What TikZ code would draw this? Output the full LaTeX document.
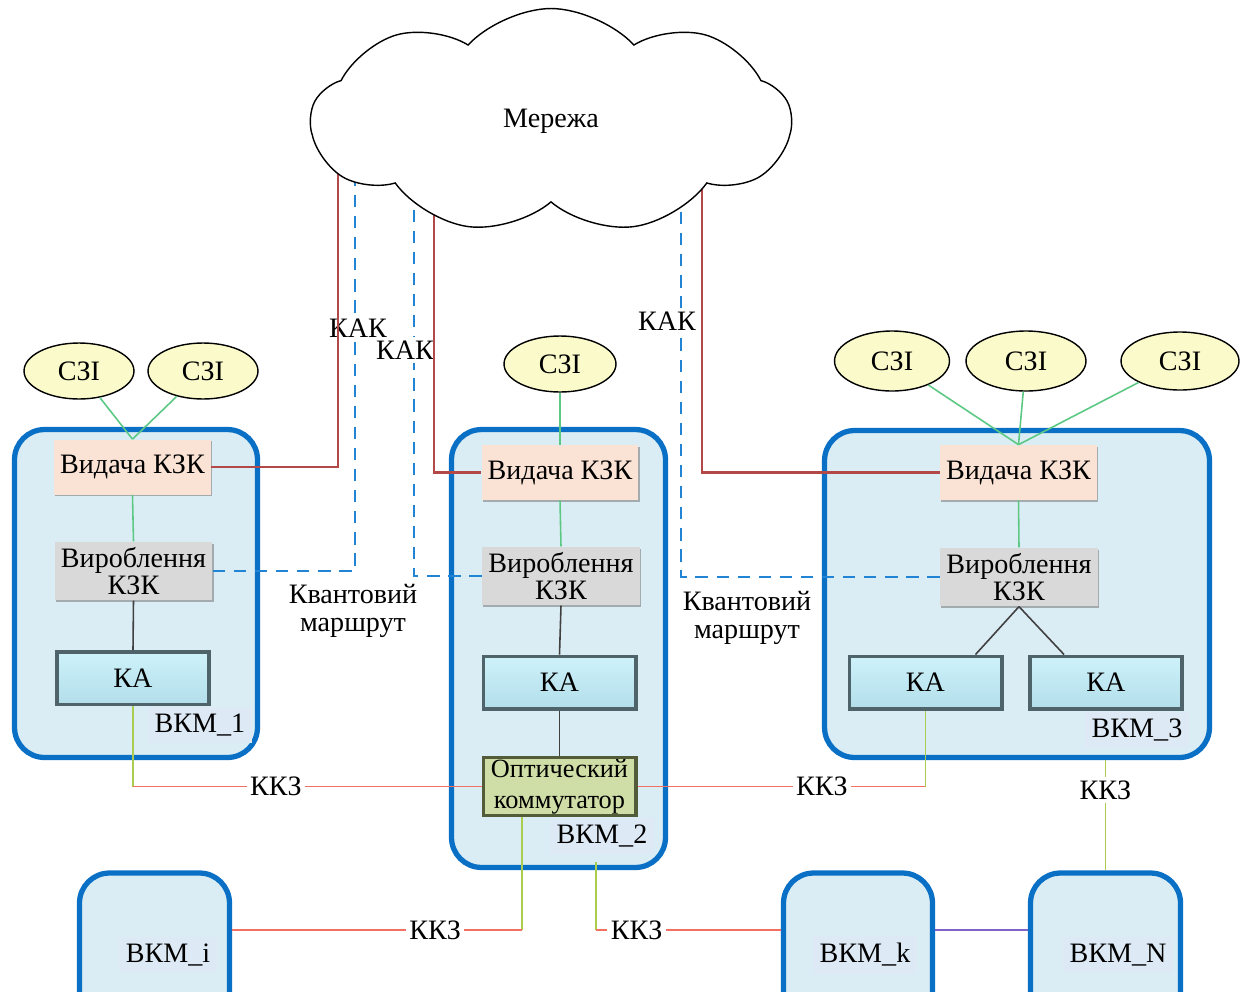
\documentclass[tikz,border=0pt]{standalone}
\usepackage{fontspec}
\setmainfont{Liberation Serif}
\usepackage{tikz}
\usetikzlibrary{calc}
\usetikzlibrary{positioning}
\usetikzlibrary{shadows}
\usetikzlibrary{shapes.geometric}
\usetikzlibrary{shapes.symbols}

\definecolor{VkmBlue}{RGB}{10,112,197}
\definecolor{VkmFill}{RGB}{219,237,244}
\definecolor{LblFill}{RGB}{221,233,245}
\definecolor{SziFill}{RGB}{250,250,202}
\definecolor{VydFill}{RGB}{250,226,213}
\definecolor{VyrFill}{RGB}{217,217,217}
\definecolor{KaTop}{RGB}{206,242,250}
\definecolor{KaBot}{RGB}{178,222,234}
\definecolor{KaEdge}{RGB}{78,100,106}
\definecolor{KomFill}{RGB}{207,221,166}
\definecolor{KomEdge}{RGB}{82,92,56}
\definecolor{KakRed}{RGB}{178,72,72}
\definecolor{KvBlue}{RGB}{34,132,212}
\definecolor{GLine}{RGB}{92,200,132}
\definecolor{KkzRed}{RGB}{244,112,96}
\definecolor{KkzYel}{RGB}{170,205,80}
\definecolor{KnPurple}{RGB}{128,98,200}

\begin{document}
\begin{tikzpicture}
  [
    x = 0.02cm, y = -0.02cm,
    font = \fontsize{16}{16}\selectfont,
    vkm/.style = {draw=VkmBlue, line width=3pt, fill=VkmFill, rounded corners=0.6cm},
    vkmlabel/.style = {fill=LblFill, inner sep=4pt},
    szi/.style = {ellipse, draw, thick, fill=SziFill,
                  minimum width=2.2cm, minimum height=1.12cm},
    vydacha/.style = {rectangle, fill=VydFill, minimum width=3.14cm, minimum height=1.1cm,
                      drop shadow={opacity=0.6, shadow xshift=0.6pt, shadow yshift=-1pt}},
    vyrob/.style = {rectangle, fill=VyrFill, minimum width=3.16cm, minimum height=1.16cm,
                    align=center, font=\fontsize{16}{12.5}\selectfont,
                    drop shadow={opacity=0.6, shadow xshift=0.6pt, shadow yshift=-1pt}},
    ka/.style = {rectangle, draw=KaEdge, line width=2pt, top color=KaTop, bottom color=KaBot,
                 minimum width=3.05cm, minimum height=1.05cm},
    kom/.style = {rectangle, draw=KomEdge, line width=2pt, fill=KomFill, align=center,
                  minimum width=3.05cm, minimum height=1.08cm, inner sep=1pt,
                  font=\fontsize{15}{17.5}\selectfont},
    route/.style = {align=center, font=\fontsize{16}{16}\selectfont},
    kak/.style = {draw=KakRed, line width=1.4pt},
    kvant/.style = {draw=KvBlue, line width=1.4pt, dash pattern=on 7pt off 5pt},
    glink/.style = {draw=GLine, line width=0.9pt},
    blink/.style = {draw=black!75, line width=0.9pt},
    kkz/.style = {draw=KkzRed, line width=1pt},
    kkzv/.style = {draw=KkzYel, line width=1pt},
    lbl/.style = {fill=white, inner sep=2pt},
  ]
  \useasboundingbox (0,0) rectangle (1250,991);
  \clip (0,0) rectangle (1250,991);

  % computers
  \node[vkm, minimum width=4.86cm, minimum height=6.56cm] (vkm1) at (136,593.5) {};
  \node[vkm, minimum width=4.28cm, minimum height=8.76cm] (vkm2) at (558.5,648.5) {};
  \node[vkm, minimum width=7.7cm, minimum height=6.54cm] (vkm3) at (1017,594) {};
  \node[vkm, minimum width=3.0cm, minimum height=3.4cm] (vkmi) at (154.5,958) {};
  \node[vkm, minimum width=2.98cm, minimum height=3.4cm] (vkmk) at (858,958) {};
  \node[vkm, minimum width=3.0cm, minimum height=3.4cm] (vkmN) at (1105.5,958) {};

  \node[vkmlabel] (l1) at (200,725) {ВКМ\_1};
  \node[vkmlabel] (l2) at (602,836) {ВКМ\_2};
  \node[vkmlabel] (l3) at (1137,730) {ВКМ\_3};
  \node[vkmlabel] (li) at (168,955) {ВКМ\_i};
  \node[vkmlabel] (lk) at (865,955) {ВКМ\_k};
  \node[vkmlabel] (lN) at (1118,955) {ВКМ\_N};

  % ВКМ_1
  \node[vydacha] (v1) at (132.5,467) {Видача КЗК};
  \node[vyrob] (p1) at (133.5,571) {Вироблення\\КЗК};
  \node[ka] (k1) at (133,678) {КА};
  \node[szi] (s1a) at (79,371) {СЗІ};
  \node[szi] (s1b) at (203,371) {СЗІ};

  % ВКМ_2
  \node[vydacha] (v2) at (560,472.5) {Видача КЗК};
  \node[vyrob] (p2) at (561,576) {Вироблення\\КЗК};
  \node[ka] (k2) at (559.5,682.5) {КА};
  \node[kom] (o2) at (559.5,786.5) {Оптический\\коммутатор};
  \node[szi, minimum width=2.24cm] (s2) at (560,364) {СЗІ};

  % ВКМ_3
  \node[vydacha] (v3) at (1018.5,472.5) {Видача КЗК};
  \node[vyrob] (p3) at (1019,577) {Вироблення\\КЗК};
  \node[ka] (k3a) at (925.5,682.5) {КА};
  \node[ka] (k3b) at (1106,682.5) {КА};
  \node[szi, minimum width=2.3cm, minimum height=1.2cm] (s3a) at (892,361) {СЗІ};
  \node[szi, minimum width=2.4cm, minimum height=1.2cm] (s3b) at (1026,361) {СЗІ};
  \node[szi, minimum width=2.36cm, minimum height=1.16cm] (s3c) at (1180,361) {СЗІ};

  % inner links
  \draw[glink] (s1a) -- (v1.north);
  \draw[glink] (s1b) -- (v1.north);
  \draw[glink] (v1.south) -- (p1.north);
  \draw[blink] (p1.south) -- (k1.north);
  \draw[glink] (s2) -- (v2.north);
  \draw[glink] (v2.south) -- (p2.north);
  \draw[blink] (p2.south) -- (k2.north);
  \draw[blink] (k2.south) -- (o2.north);
  \draw[glink] (s3a) -- (v3.north);
  \draw[glink] (s3b) -- (v3.north);
  \draw[glink] (s3c) -- (v3.north);
  \draw[glink] (v3.south) -- (p3.north);
  \draw[blink] (p3.south) -- ([xshift=-0.56cm]k3a.north east);
  \draw[blink] (p3.south) -- ([xshift=0.72cm]k3b.north west);

  % quantum routes and key channels to the network
  \coordinate (r1) at (338,150);
  \coordinate (r2) at (434,150);
  \coordinate (r3) at (702,150);
  \coordinate (b1) at (355,150);
  \coordinate (b2) at (414,150);
  \coordinate (b3) at (681,150);
  \draw[kvant] (p1.east) -| (b1);
  \draw[kvant] (p2.west) -| (b2);
  \draw[kvant] (p3.west) -| (b3);
  \node[lbl] (kak1) at (358,328) {КАК};
  \node[lbl] (kak2) at (405,350) {КАК};
  \node[lbl] (kak3) at (667,321) {КАК};
  \draw[kak] (v1.east) -| (r1);
  \draw[kak] (v2.west) -| (r2);
  \draw[kak] (v3.west) -| (r3);
  \node[route] (q1) at (353,611) {Квантовий\\маршрут};
  \node[route] (q2) at (747,618) {Квантовий\\маршрут};

  % classical channels
  \coordinate (c1) at (k1.south |- o2.west);
  \draw[kkzv] (k1.south) -- (c1);
  \draw[kkz] (c1) -- node[lbl, pos=0.41] {ККЗ} (o2.west);
  \coordinate (c2) at (k3a.south |- o2.east);
  \draw[kkz] (o2.east) -- node[lbl, pos=0.64] {ККЗ} (c2);
  \draw[kkzv] (c2) -- (k3a.south);
  \draw[kkzv] (vkmN.north |- vkm3.south) -- node[lbl, pos=0.27] {ККЗ} (vkmN.north);

  \coordinate (o2s) at ([xshift=-0.75cm]o2.south);
  \coordinate (ei) at ([yshift=0.56cm]vkmi.east);
  \coordinate (c3) at (o2s |- ei);
  \draw[kkzv] (o2s) -- (c3);
  \draw[kkz] (c3) -- node[lbl, pos=0.3] {ККЗ} (ei);

  \coordinate (b2s) at ([xshift=0.75cm, yshift=0.16cm]vkm2.south);
  \coordinate (wk) at ([yshift=0.56cm]vkmk.west);
  \coordinate (ek) at ([yshift=0.56cm]vkmk.east);
  \coordinate (wn) at ([yshift=0.56cm]vkmN.west);
  \coordinate (c4) at (b2s |- wk);
  \draw[kkzv] (b2s) -- (c4);
  \draw[kkz] (c4) -- node[lbl, pos=0.22] {ККЗ} (wk);
  \draw[draw=KnPurple, line width=1pt] (ek) -- (wn);

  % network
  \node[cloud, draw, fill=white, line width=0.8pt, cloud puffs=9, cloud puff arc=95,
        aspect=2.2, minimum width=9.6cm, minimum height=4.5cm] (net) at (551,121) {Мережа};
\end{tikzpicture}
\end{document}
